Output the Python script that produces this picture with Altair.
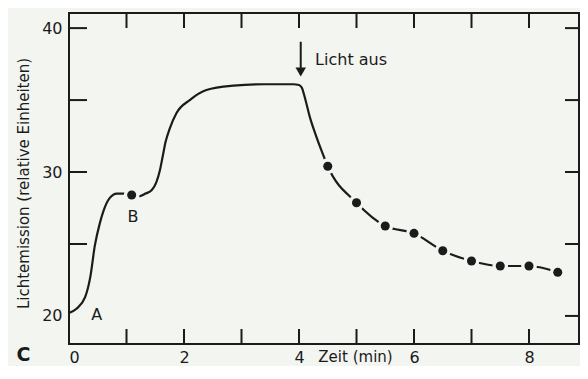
import altair as alt
import pandas as pd

# ---- data ----
curve_t = [0.00, 0.13, 0.28, 0.37, 0.45, 0.54, 0.60, 0.71, 0.83, 0.97, 1.09,
           1.23, 1.33, 1.44, 1.52, 1.58, 1.63, 1.68, 1.75, 1.87, 2.10, 2.39,
           2.86, 3.40, 3.90, 4.00, 4.05, 4.10, 4.19, 4.28, 4.39, 4.50,
           5.0, 5.5, 6.0, 6.5, 7.0, 7.5, 8.0, 8.5]
curve_v = [20.2, 20.5, 21.3, 22.7, 24.9, 26.5, 27.3, 28.2, 28.5, 28.5, 28.4,
           28.33, 28.5, 28.75, 29.3, 30.1, 31.1, 32.1, 33.0, 34.1, 35.0, 35.7,
           36.0, 36.1, 36.1, 36.05, 35.85, 35.2, 33.8, 32.7, 31.5, 30.4,
           27.87, 26.25, 25.74, 24.53, 23.82, 23.47, 23.47, 23.03]

dot_t = [1.09, 4.5, 5.0, 5.5, 6.0, 6.5, 7.0, 7.5, 8.0, 8.5]
dot_v = [28.4, 30.4, 27.87, 26.25, 25.74, 24.53, 23.82, 23.47, 23.47, 23.03]

x_tick_vals = [1, 2, 3, 4, 5, 6, 7, 8]
left_tick_vals = [25, 30, 35, 40]
right_tick_vals = [20, 25, 30, 35, 40]
x_label_vals = [0, 2, 4, 6, 8]
y_label_vals = [20, 30, 40]

point_labels = ["A", "B"]
point_label_t = [0.48, 1.113]
point_label_v = [19.72, 26.5]

arrow_t = [4.03]
arrow_top = [39.05]
arrow_bottom = [37.1]
arrow_head = [36.95]
note_text = ["Licht aus"]
note_t = [4.28]
note_v = [37.43]

# ---- styling ----
W, H = 510, 331
BG = "#f3f5f1"
INK = "#1b1b1b"
FONT = "DejaVu Sans"

xs = alt.Scale(domain=[0, W / 57.5], nice=False, zero=False)
ys = alt.Scale(domain=[18.05, 41.05], nice=False, zero=False)

xaxis = alt.Axis(values=x_label_vals, ticks=False, domain=False, grid=False,
                 labelPadding=18, labelBaseline="alphabetic", labelFontSize=16,
                 labelFont=FONT, labelColor=INK,
                 title="Zeit (min)", titleX=286, titleY=17, titleFont=FONT,
                 titleFontSize=15, titleFontWeight="normal", titleColor=INK,
                 titleBaseline="alphabetic", titleAlign="center")
yaxis = alt.Axis(values=y_label_vals, ticks=False, domain=False, grid=False,
                 labelPadding=7, labelFontSize=16, labelFont=FONT, labelColor=INK,
                 title="Lichtemission (relative Einheiten)", titleX=-46, titleY=170,
                 titleAngle=270, titleFont=FONT, titleFontSize=15,
                 titleFontWeight="normal", titleColor=INK,
                 titleBaseline="middle", titleAlign="center")


def X(field):
    return alt.X(field, scale=xs, axis=xaxis)


def Y(field):
    return alt.Y(field, scale=ys, axis=yaxis)


df_curve = pd.DataFrame({"t": curve_t, "v": curve_v})
df_dots = pd.DataFrame({"t": dot_t, "v": dot_v})
df_xt = pd.DataFrame({"t": x_tick_vals})
df_lt = pd.DataFrame({"v": left_tick_vals})
df_rt = pd.DataFrame({"v": right_tick_vals})
df_pl = pd.DataFrame({"label": point_labels, "t": point_label_t, "v": point_label_v})
df_arrow = pd.DataFrame({"t": arrow_t, "v": arrow_top, "bottom": arrow_bottom, "head": arrow_head})
df_note = pd.DataFrame({"label": note_text, "t": note_t, "v": note_v})

line = alt.Chart(df_curve).mark_line(color=INK, strokeWidth=2.2, interpolate="monotone").encode(
    x=X("t:Q"), y=Y("v:Q"))
halo = alt.Chart(df_dots).mark_point(filled=True, color=BG, size=250, opacity=1, shape="circle").encode(
    x=X("t:Q"), y=Y("v:Q"))
dots = alt.Chart(df_dots).mark_point(filled=True, color=INK, size=82, opacity=1, shape="circle").encode(
    x=X("t:Q"), y=Y("v:Q"))

tick_b = alt.Chart(df_xt).mark_rule(color=INK, strokeWidth=2).encode(
    x=X("t:Q"), y=alt.value(H), y2=alt.value(H - 15))
tick_t = alt.Chart(df_xt).mark_rule(color=INK, strokeWidth=2).encode(
    x=X("t:Q"), y=alt.value(0), y2=alt.value(15))
tick_l = alt.Chart(df_lt).mark_rule(color=INK, strokeWidth=2).encode(
    y=Y("v:Q"), x=alt.value(0), x2=alt.value(18))
tick_r = alt.Chart(df_rt).mark_rule(color=INK, strokeWidth=2).encode(
    y=Y("v:Q"), x=alt.value(W - 14), x2=alt.value(W))

arrow_shaft = alt.Chart(df_arrow).mark_rule(color=INK, strokeWidth=2).encode(
    x=X("t:Q"), y=Y("v:Q"), y2="bottom:Q")
arrow_tip = alt.Chart(df_arrow).mark_point(filled=True, color=INK, shape="triangle-down", size=110, opacity=1).encode(
    x=X("t:Q"), y=Y("head:Q"))

pt_labels = alt.Chart(df_pl).mark_text(font=FONT, fontSize=16, color=INK, align="center", baseline="alphabetic").encode(
    x=X("t:Q"), y=Y("v:Q"), text="label:N")
note = alt.Chart(df_note).mark_text(font=FONT, fontSize=16, color=INK, align="left", baseline="alphabetic").encode(
    x=X("t:Q"), y=Y("v:Q"), text="label:N")
corner = alt.Chart(pd.DataFrame({"label": ["C"]})).mark_text(
    font=FONT, fontSize=19, fontWeight="bold", color=INK, align="center", baseline="alphabetic").encode(
    text="label:N", x=alt.value(-45.5), y=alt.value(348))

chart = alt.layer(line, halo, dots, tick_b, tick_t, tick_l, tick_r,
                  arrow_shaft, arrow_tip, pt_labels, note, corner).properties(
    width=W, height=H,
    autosize=alt.AutoSizeParams(type="none"),
    padding={"left": 61, "top": 5, "right": 1, "bottom": 22},
    background=BG,
).configure_view(stroke=INK, strokeWidth=2)

chart.save("out.html", embed_options={"renderer": "svg", "actions": False})
